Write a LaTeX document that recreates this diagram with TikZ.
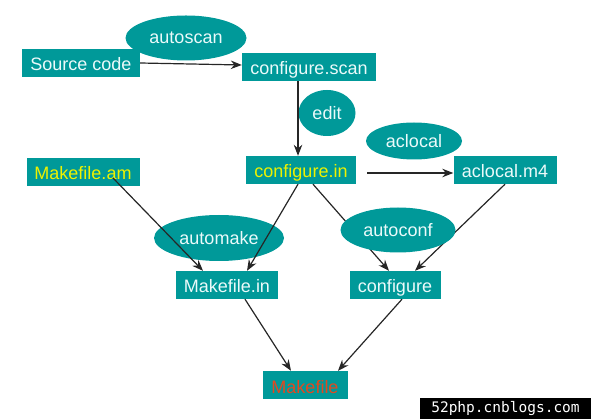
\documentclass[tikz,border=0pt]{standalone}
\usepackage{fontspec}
\setmainfont{Liberation Sans}
\newfontfamily\markfont{DejaVu Sans Mono}
\usepackage{tikz}
\usetikzlibrary{shapes.geometric, arrows.meta, positioning}
\definecolor{boxteal}{RGB}{0, 153, 153}
\definecolor{boxtext}{RGB}{235, 250, 250}
\definecolor{inyellow}{RGB}{238, 242, 0}
\definecolor{outred}{RGB}{228, 72, 30}
\tikzset{
    font=\fontsize{18}{21}\selectfont,
    file/.style={rectangle, fill=boxteal, text=boxtext, inner sep=0pt, minimum height=28pt, text height=17pt, text depth=1pt},
    tool/.style={ellipse, fill=boxteal, text=boxtext, inner sep=0pt},
    arrow/.style={-{Stealth[length=11pt, width=8.5pt]}, line width=1.2pt, color=black!85},
    watermark/.style={fill=black, text=white, inner sep=0pt, font=\markfont\fontsize{14.5}{16}\selectfont}
}

\begin{document}
\begin{tikzpicture}[x=1pt, y=-1pt]

    \useasboundingbox (0,0) rectangle (591,419);

    % Scan step
    \node (src) [file, minimum width=118pt] at (81,63) {Source code};
    \node (autoscan) [tool, minimum width=121pt, minimum height=45pt] at (186,38) {autoscan};
    \node (cfgscan) [file, minimum width=134pt] at (309,67) {configure.scan};

    % Edit and aclocal
    \node (edit) [tool, minimum width=57pt, minimum height=46pt] at (327,113) {edit};
    \node (cfgin) [file, minimum width=110pt, text=inyellow] at (301,170) {configure.in};
    \node (aclocal) [tool, minimum width=96pt, minimum height=37pt] at (414,141) {aclocal};
    \node (aclm4) [file, minimum width=103pt] at (505,170) {aclocal.m4};

    % Automake side
    \node (mkam) [file, minimum width=113pt, text=inyellow] at (83,172) {Makefile.am};
    \node (automake) [tool, minimum width=130pt, minimum height=46pt] at (219,238) {automake};
    \node (mkin) [file, minimum width=102pt] at (227,285) {Makefile.in};

    % Autoconf side
    \node (cfg) [file, minimum width=91pt] at (395,285) {configure};

    % Result
    \node (mkfile) [file, minimum width=85pt, text=outred] at (305,385) {Makefile};

    % Paths
    \draw [arrow] (src.east) -- ([yshift=2pt]cfgscan.west);
    \draw [arrow] ([xshift=-11pt]cfgscan.south) -- ([xshift=-3pt]cfgin.north);
    \draw [arrow, shorten <=11pt] ([yshift=-3pt]cfgin.east) -- ([yshift=-3pt]aclm4.west);
    \draw [arrow] ([xshift=30pt, yshift=-6pt]mkam.center) -- ([xshift=-24pt]mkin.north);
    \draw [arrow] ([xshift=-3pt]cfgin.south) -- ([xshift=20pt]mkin.north);
    \draw [arrow] ([xshift=12pt]cfgin.south) -- ([xshift=-6pt]cfg.north);
    \draw [arrow] (aclm4.south) -- ([xshift=20pt]cfg.north);
    \draw [arrow] ([xshift=18pt]mkin.south) -- ([xshift=-14pt]mkfile.north);
    \draw [arrow] ([xshift=7pt]cfg.south) -- ([xshift=33pt]mkfile.north);

    % autoconf sits over its paths
    \node (autoconf) [tool, minimum width=115pt, minimum height=45pt] at (398,230) {autoconf};

    % Site mark
    \node (mark) [watermark, minimum width=171pt, minimum height=21pt] at (505.5,408.5) {52php.cnblogs.com};

\end{tikzpicture}
\end{document}
